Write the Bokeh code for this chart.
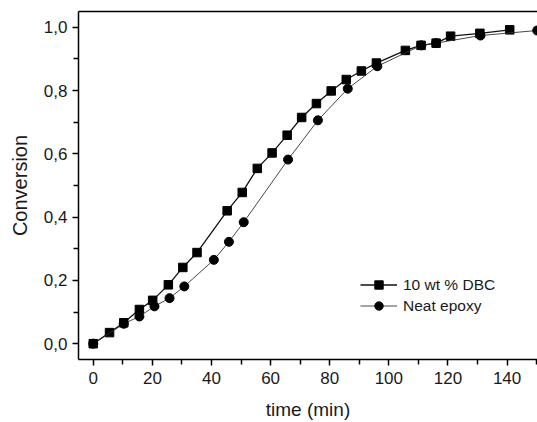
from bokeh.plotting import figure
from bokeh.models import (Range1d, LinearAxis, FixedTicker, CustomJSTickFormatter,
                          Legend, LegendItem)
from bokeh.embed import file_html
from bokeh.resources import INLINE

# 10 wt % DBC (squares)
dbc_t = [0, 5.5, 10.3, 15.6, 20.1, 25.4, 30.3, 35.1, 45.3, 50.4, 55.5, 60.5, 65.6,
         70.5, 75.5, 80.5, 85.6, 90.7, 95.8, 105.6, 110.9, 116, 120.9, 130.8, 140.9]
dbc_c = [0.0, 0.035, 0.066, 0.108, 0.137, 0.186, 0.241, 0.288, 0.42, 0.478, 0.554,
         0.603, 0.659, 0.715, 0.759, 0.799, 0.835, 0.862, 0.887, 0.927, 0.943, 0.95,
         0.972, 0.981, 0.992]
# Neat epoxy (circles)
neat_t = [0, 10.3, 15.6, 20.7, 25.8, 30.8, 40.8, 45.9, 50.9, 65.9, 76, 86.1, 96.1,
          111, 116, 131, 150.2]
neat_c = [0.0, 0.063, 0.086, 0.118, 0.144, 0.181, 0.265, 0.322, 0.384, 0.582, 0.706,
          0.806, 0.877, 0.943, 0.95, 0.974, 0.99]

x_ticks = [0, 20, 40, 60, 80, 100, 120, 140]
x_minor = [10, 30, 50, 70, 90, 110, 130, 150]
y_ticks = [0.0, 0.2, 0.4, 0.6, 0.8, 1.0]
y_minor = [0.1, 0.3, 0.5, 0.7, 0.9]

FONT = "Liberation Sans"
TXT = "#1a1a1a"

p = figure(width=537, height=422, output_backend="svg", toolbar_location=None,
           x_range=Range1d(-5, 150.3), y_range=Range1d(-0.05, 1.05),
           x_axis_label="time (min)", y_axis_label="Conversion",
           min_border_left=78, min_border_right=0, min_border_top=11,
           min_border_bottom=62)
p.outline_line_color = None
p.grid.visible = False
p.background_fill_color = "white"

for ax in (p.xaxis[0], p.yaxis[0]):
    ax.axis_line_width = 1.5
    ax.axis_line_color = "black"
    ax.major_tick_line_width = 1.5
    ax.minor_tick_line_width = 1.5
    ax.major_tick_in = 0
    ax.major_tick_out = 6
    ax.minor_tick_in = 0
    ax.minor_tick_out = 5
    ax.major_label_text_font = FONT
    ax.major_label_text_font_size = "17px"
    ax.major_label_text_color = TXT
    ax.axis_label_text_font = FONT
    ax.axis_label_text_font_style = "normal"
    ax.axis_label_text_color = TXT

p.xaxis[0].axis_label_text_font_size = "19px"
p.yaxis[0].axis_label_text_font_size = "20px"
p.xaxis[0].ticker = FixedTicker(ticks=x_ticks, minor_ticks=x_minor)
p.yaxis[0].ticker = FixedTicker(ticks=y_ticks, minor_ticks=y_minor)
p.yaxis[0].formatter = CustomJSTickFormatter(code="return tick.toFixed(1).replace('.', ',');")
p.yaxis[0].axis_label_standoff = 10
p.xaxis[0].axis_label_standoff = 12
p.xaxis[0].major_label_standoff = 6

top = LinearAxis(ticker=FixedTicker(ticks=[]), axis_line_width=1.5,
                 axis_line_color="black", major_tick_out=0, minor_tick_out=0,
                 major_label_text_font_size="0px")
p.add_layout(top, "above")

l1 = p.line(dbc_t, dbc_c, line_color="#111111", line_width=1.3)
s1 = p.scatter(dbc_t, dbc_c, marker="square", size=8.5, fill_color="black",
               line_color="black")
l2 = p.line(neat_t, neat_c, line_color="#333333", line_width=0.9)
s2 = p.scatter(neat_t, neat_c, marker="circle", size=9, fill_color="black",
               line_color="black")

legend = Legend(items=[LegendItem(label="10 wt % DBC", renderers=[l1, s1]),
                       LegendItem(label="Neat epoxy", renderers=[l2, s2])],
                location=(282, 43), padding=0, margin=0, spacing=0,
                glyph_width=37, glyph_height=21, label_height=21,
                label_standoff=6, label_text_font=FONT,
                label_text_font_size="15.5px", label_text_color=TXT,
                border_line_color=None, background_fill_alpha=0)
p.add_layout(legend, "center")

open("out.html", "w").write(file_html(p, INLINE))
